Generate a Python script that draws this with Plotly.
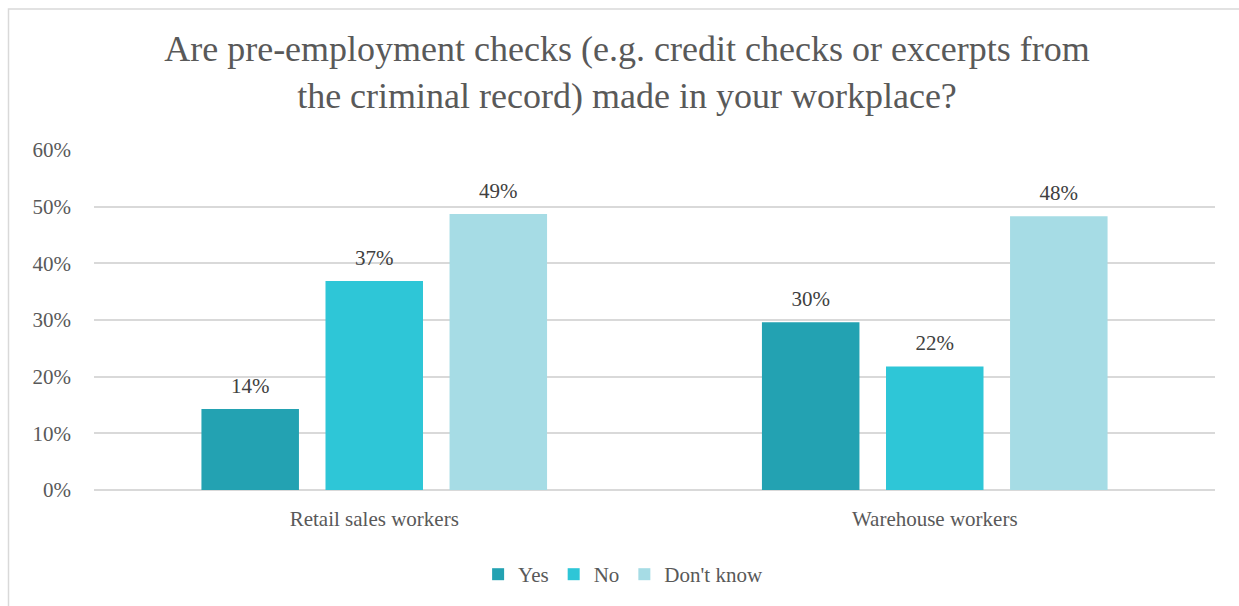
import plotly.graph_objects as go

# Survey data: share of answers per worker group
categories = ["Retail sales workers", "Warehouse workers"]
series_names = ["Yes", "No", "Don't know"]
yes_values = [0.143, 0.296]
no_values = [0.369, 0.218]
dont_know_values = [0.487, 0.483]
y_tick_values = [0, 0.1, 0.2, 0.3, 0.4, 0.5, 0.6]

colors = ["#23A2B2", "#2EC6D7", "#A6DCE5"]
title_text = ("Are pre-employment checks (e.g. credit checks or excerpts from<br>"
              "the criminal record) made in your workplace?")

W, H = 1239, 606
ML, MR, MT, MB = 94, 24, 150, 115
FONT = "Liberation Serif"
BARGAP = 0.336
LABEL_SIZE = 21

fig = go.Figure()
for name, vals, col in zip(series_names, [yes_values, no_values, dont_know_values], colors):
    fig.add_trace(go.Bar(
        name=name, x=categories, y=vals, offsetgroup=name,
        marker=dict(color=col, line=dict(width=0)),
        hoverinfo="skip",
    ))
# value labels, grouped the same way as the bars
for name, vals in zip(series_names, [yes_values, no_values, dont_know_values]):
    fig.add_trace(go.Scatter(
        x=categories, y=vals, offsetgroup=name,
        mode="markers+text", text=[f"{v:.0%}" for v in vals],
        textposition="top center",
        textfont=dict(family=FONT, size=LABEL_SIZE, color="#404040"),
        marker=dict(size=16, opacity=0),
        showlegend=False, hoverinfo="skip", cliponaxis=False,
    ))

# outer frame (left and top edges)
pw = W - ML - MR
ph = H - MT - MB
def px_x(p):
    return (p - ML) / pw
def px_y(p):
    return (H - MB - p) / ph
fx, fy = px_x(8.5), px_y(8.5)
fig.add_shape(type="path", xref="paper", yref="paper",
              path=f"M {fx} {px_y(H + 20)} L {fx} {fy} L {px_x(W + 20)} {fy}",
              line=dict(color="#D9D9D9", width=1.5), layer="above")

fig.update_layout(
    width=W, height=H,
    margin=dict(l=ML, r=MR, t=MT, b=MB),
    paper_bgcolor="white", plot_bgcolor="white",
    barmode="group", bargap=BARGAP, bargroupgap=0.214,
    scattermode="group", scattergap=BARGAP,
    title=dict(text=title_text, x=627 / W, xanchor="center",
               y=1 - 61 / H, yanchor="top",
               font=dict(family=FONT, size=36, color="#595959")),
    font=dict(family=FONT, color="#595959", size=LABEL_SIZE),
    legend=dict(orientation="h", x=0.472, xanchor="center", y=-0.245, yanchor="middle",
                font=dict(family=FONT, size=LABEL_SIZE, color="#595959"),
                traceorder="normal"),
    xaxis=dict(showgrid=False, showline=False, zeroline=False,
               tickfont=dict(family=FONT, size=LABEL_SIZE, color="#595959"),
               ticklabelstandoff=14),
    yaxis=dict(range=[0, 0.6], tickvals=y_tick_values, tickformat=".0%",
               showgrid=True, gridcolor="#D9D9D9", gridwidth=1.5,
               zeroline=True, zerolinecolor="#D9D9D9", zerolinewidth=1.5,
               showline=False,
               tickfont=dict(family=FONT, size=LABEL_SIZE, color="#595959"),
               ticklabelstandoff=22),
    showlegend=True,
)

fig.write_html("out.html")
